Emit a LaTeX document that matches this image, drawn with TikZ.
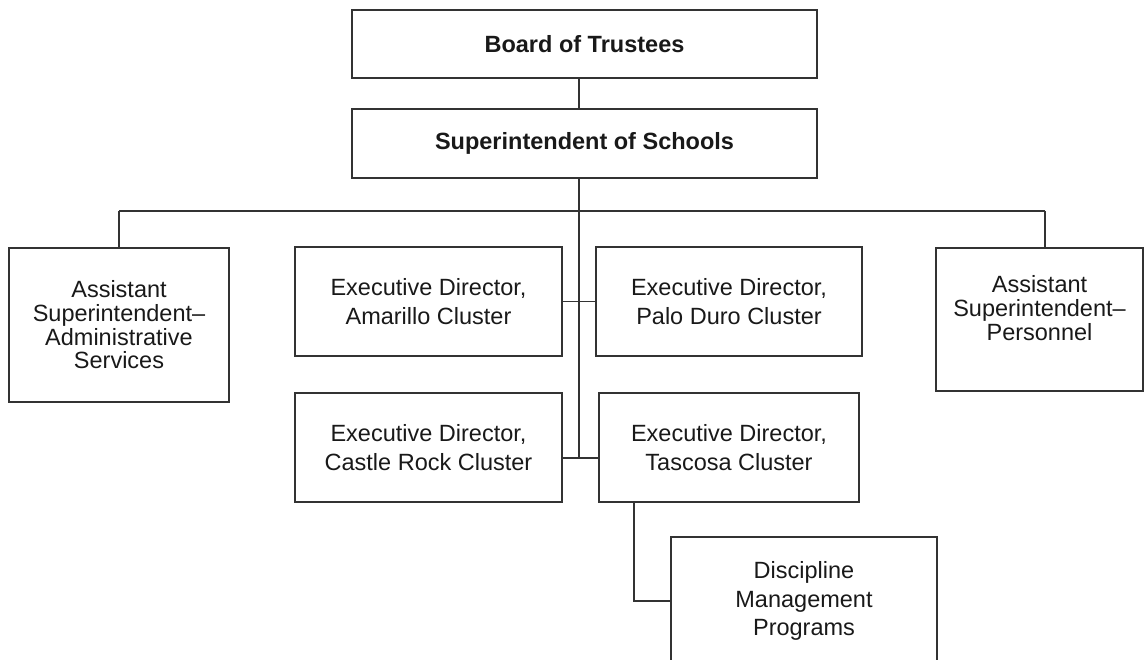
\documentclass[tikz,border=0pt]{standalone}
\usepackage{fontspec}
\setmainfont{Liberation Sans}
\usepackage{tikz}

\begin{document}
\begin{tikzpicture}[x=1pt,y=-1pt,
  orgbox/.style={draw=black!80,line width=1.1pt,inner sep=0pt,align=center,
    text=black!90,font=\fontsize{23.5}{28.5}\selectfont},
  topbox/.style={orgbox,font=\fontsize{23.5}{28.5}\selectfont\bfseries},
  asstbox/.style={orgbox,font=\fontsize{23.5}{23.6}\selectfont},
  link/.style={draw=black!80,line width=1.1pt}]
\useasboundingbox (0,0) rectangle (1144,660);
% top of the chart
\node[topbox,minimum width=465,minimum height=68] (board) at (584.5,44) {Board of Trustees};
\node[topbox,minimum width=465,minimum height=69] (super) at (584.5,143.5) {Superintendent of Schools};
% assistants
\node[asstbox,minimum width=220,minimum height=154] (admin) at (119,325)
  {Assistant\\Superintendent–\\Administrative\\Services};
\node[asstbox,minimum width=207,minimum height=143,text depth=23pt] (personnel) at (1039.5,319.5)
  {Assistant\\Superintendent–\\Personnel};
% clusters
\node[orgbox,minimum width=267,minimum height=109] (amarillo) at (428.5,301.5)
  {Executive Director,\\Amarillo Cluster};
\node[orgbox,minimum width=266,minimum height=109] (palo) at (729,301.5)
  {Executive Director,\\Palo Duro Cluster};
\node[orgbox,minimum width=267,minimum height=109] (castle) at (428.5,447.5)
  {Executive Director,\\Castle Rock Cluster};
\node[orgbox,minimum width=260,minimum height=109] (tascosa) at (729,447.5)
  {Executive Director,\\Tascosa Cluster};
\node[orgbox,minimum width=266,minimum height=128] (discipline) at (804,601)
  {Discipline\\Management\\Programs};
% joints
\coordinate (trunk) at (579,211);
\coordinate (busL) at (119,211);
\coordinate (busR) at (1045,211);
\coordinate (lowjoin) at (579,458);
\coordinate (dropx) at (634,502);
% lines
\draw[link] (board.south -| trunk) -- (super.north -| trunk);
\draw[link] (super.south -| trunk) -- (lowjoin);
\draw[link] (busL) -- (busR);
\draw[link] (busL) -- (admin.north);
\draw[link] (busR) -- (busR |- personnel.north);
\draw[link] (amarillo.east) -- (palo.west);
\draw[link] (castle.east |- lowjoin) -- (tascosa.west |- lowjoin);
\draw[link] (tascosa.south -| dropx) |- (discipline.west);
\end{tikzpicture}
\end{document}
